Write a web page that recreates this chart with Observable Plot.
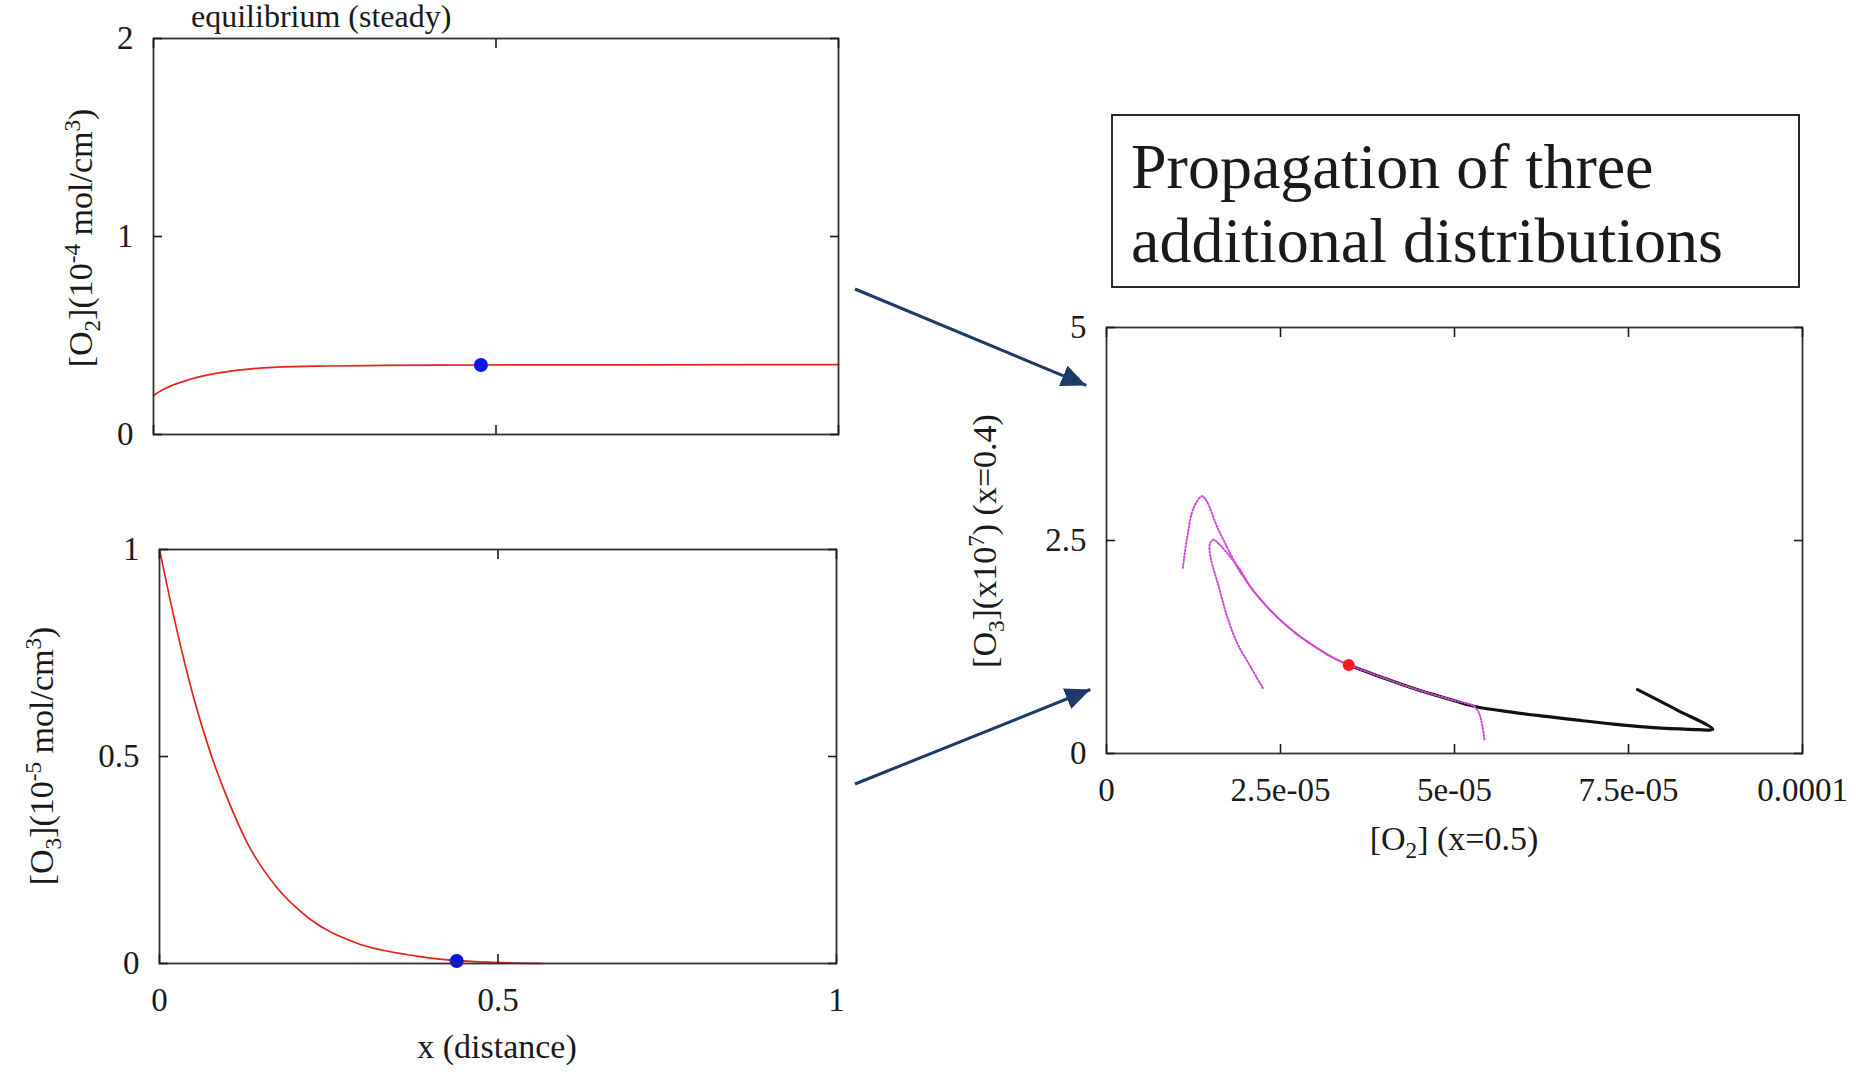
<!DOCTYPE html>
<html><head><meta charset="utf-8">
<script src="https://cdn.jsdelivr.net/npm/d3@7"></script>
<script src="https://cdn.jsdelivr.net/npm/@observablehq/plot@0.6"></script>
<style>
html,body{margin:0;padding:0;background:#fff;}
body{width:1865px;height:1072px;position:relative;overflow:hidden;font-family:"Liberation Serif","Times New Roman",serif;color:#1a1a1a;}
.abs{position:absolute;}
.lbl{position:absolute;white-space:nowrap;font-size:34px;line-height:1;}
.rot{transform:translate(-50%,-50%) rotate(-90deg);}
.cx{transform:translateX(-50%);}
sub,sup{font-size:0.68em;line-height:0;}
#box{position:absolute;left:1111px;top:114px;width:689px;height:174px;border:2px solid #2a2a2a;font-size:64px;line-height:74px;padding:14px 0 0 18px;box-sizing:border-box;white-space:nowrap;}
</style></head><body>
<script>
// ---------- Data ----------
// Top panel: equilibrium [O2] profile vs distance (units 1e-4 mol/cm^3)
const o2Dist = [0, 0.014, 0.055, 0.095, 0.135, 0.175, 0.255, 0.335, 0.478, 0.7, 1];
const o2Conc = [0.197, 0.227, 0.28, 0.311, 0.329, 0.339, 0.346, 0.349, 0.351, 0.352, 0.353];
const o2ProbeDist = [0.478];
const o2ProbeConc = [0.351];

// Bottom panel: equilibrium [O3] profile vs distance (units 1e-5 mol/cm^3)
const o3Dist = [0, 0.025, 0.05, 0.075, 0.1, 0.13, 0.17, 0.22, 0.29, 0.38, 0.46, 0.566];
const o3Conc = [1, 0.81, 0.645, 0.51, 0.4, 0.29, 0.19, 0.11, 0.05, 0.018, 0.005, 0];
const o3ProbeDist = [0.439];
const o3ProbeConc = [0.006];

// Right panel: phase plane [O2](x=0.5) vs [O3](x=0.4) (x1e7)
const baseO2 = [7.63e-5, 8.2e-5, 8.71e-5, 8.5e-5, 8.243e-5, 7.765e-5, 7.285e-5, 6.807e-5, 6.376e-5, 5.87e-5, 5.275e-5, 4.94e-5, 4.46e-5, 3.98e-5, 3.48e-5];
const baseO3 = [0.75, 0.51, 0.285, 0.28, 0.288, 0.31, 0.345, 0.388, 0.43, 0.48, 0.555, 0.634, 0.75, 0.887, 1.04];
const distAO2 = [1.097e-5, 1.16e-5, 1.255e-5, 1.375e-5, 1.447e-5, 1.59e-5, 1.734e-5, 1.878e-5, 2.069e-5, 2.31e-5, 2.547e-5, 2.787e-5, 3.027e-5, 3.265e-5, 3.48e-5];
const distAO3 = [2.18, 2.54, 2.89, 3.02, 2.95, 2.66, 2.42, 2.19, 1.955, 1.72, 1.53, 1.37, 1.237, 1.12, 1.04];
const distBO2 = [2.245e-5, 2.069e-5, 1.878e-5, 1.734e-5, 1.614e-5, 1.495e-5, 1.485e-5, 1.533e-5, 1.638e-5, 1.78e-5, 1.925e-5, 2.069e-5, 2.31e-5, 2.547e-5, 2.787e-5, 3.027e-5, 3.265e-5, 3.48e-5];
const distBO3 = [0.77, 1.02, 1.295, 1.605, 1.955, 2.305, 2.46, 2.51, 2.44, 2.305, 2.15, 1.955, 1.72, 1.53, 1.37, 1.237, 1.12, 1.04];
const distCO2 = [5.43e-5, 5.40e-5, 5.35e-5, 5.275e-5, 4.94e-5, 4.46e-5, 3.98e-5, 3.48e-5];
const distCO3 = [0.167, 0.32, 0.478, 0.555, 0.634, 0.75, 0.887, 1.04];
const eqO2 = [3.48e-5];
const eqO3 = [1.04];

// Ticks
const profileXTicks = [0, 0.5, 1];
const profileXTickLabels = ["0", "0.5", "1"];
const topYTicks = [0, 1, 2];
const topYTickLabels = ["0", "1", "2"];
const botYTicks = [0, 0.5, 1];
const botYTickLabels = ["0", "0.5", "1"];
const phaseXTicks = [0, 2.5e-5, 5e-5, 7.5e-5, 1e-4];
const phaseXTickLabels = ["0", "2.5e-05", "5e-05", "7.5e-05", "0.0001"];
const phaseYTicks = [0, 2.5, 5];
const phaseYTickLabels = ["0", "2.5", "5"];

// ---------- Helpers ----------
const zip = (xs, ys) => xs.map((x, i) => ({x, y: ys[i]}));
const fmtFrom = (ticks, labels) => (d) => labels[ticks.indexOf(d)] ?? "";

function panel({left, top, width, height, frame, xDomain, yDomain, xTicks, xFmt, yTicks, yFmt, showX, marks}) {
  const [fl, fr, ft, fb] = frame;
  const svg = Plot.plot({
    width, height,
    marginLeft: fl - left, marginRight: left + width - fr,
    marginTop: ft - top, marginBottom: top + height - fb,
    x: {domain: xDomain}, y: {domain: yDomain},
    style: {fontFamily: '"Liberation Serif","Times New Roman",serif', fontSize: "33px", color: "#1a1a1a", background: "transparent", overflow: "visible"},
    marks: [
      ...marks,
      Plot.frame({stroke: "#333", strokeWidth: 1.8}),
      Plot.axisX({anchor: "bottom", ticks: xTicks, tickSize: -9, tickPadding: 33, tickFormat: showX ? xFmt : () => "", label: null, strokeWidth: 1.6}),
      Plot.axisX({anchor: "top", ticks: xTicks, tickSize: -9, tickFormat: () => "", label: null, strokeWidth: 1.6}),
      Plot.axisY({anchor: "left", ticks: yTicks, tickSize: -9, tickPadding: 29, tickFormat: yFmt, label: null, strokeWidth: 1.6}),
      Plot.axisY({anchor: "right", ticks: yTicks, tickSize: -9, tickFormat: () => "", label: null, strokeWidth: 1.6})
    ]
  });
  svg.style.position = "absolute";
  svg.style.left = left + "px";
  svg.style.top = top + "px";
  document.body.appendChild(svg);
}

const red = "#e3231d";
const magenta = "#d048d8";

// Top panel
panel({
  left: 0, top: 0, width: 860, height: 470, frame: [153, 838, 38, 434],
  xDomain: [0, 1], yDomain: [0, 2],
  xTicks: profileXTicks, xFmt: fmtFrom(profileXTicks, profileXTickLabels),
  yTicks: topYTicks, yFmt: fmtFrom(topYTicks, topYTickLabels), showX: false,
  marks: [
    Plot.line(zip(o2Dist, o2Conc), {x: "x", y: "y", stroke: red, strokeWidth: 1.7, curve: "monotone-x"}),
    Plot.dot(zip(o2ProbeDist, o2ProbeConc), {x: "x", y: "y", r: 7, fill: "#0814e8", stroke: "none"})
  ]
});

// Bottom panel
panel({
  left: 0, top: 500, width: 860, height: 572, frame: [159, 836, 549, 963],
  xDomain: [0, 1], yDomain: [0, 1],
  xTicks: profileXTicks, xFmt: fmtFrom(profileXTicks, profileXTickLabels),
  yTicks: botYTicks, yFmt: fmtFrom(botYTicks, botYTickLabels), showX: true,
  marks: [
    Plot.line(zip(o3Dist, o3Conc), {x: "x", y: "y", stroke: red, strokeWidth: 1.7, curve: "monotone-x"}),
    Plot.dot(zip(o3ProbeDist, o3ProbeConc), {x: "x", y: "y", r: 7, fill: "#0814e8", stroke: "none"})
  ]
});

// Right panel (phase plane)
const dotted = {stroke: magenta, strokeWidth: 2, strokeDasharray: "1.3 2.1", curve: "catmull-rom"};
panel({
  left: 1000, top: 300, width: 865, height: 560, frame: [1106, 1802, 327, 753],
  xDomain: [0, 1e-4], yDomain: [0, 5],
  xTicks: phaseXTicks, xFmt: fmtFrom(phaseXTicks, phaseXTickLabels),
  yTicks: phaseYTicks, yFmt: fmtFrom(phaseYTicks, phaseYTickLabels), showX: true,
  marks: [
    Plot.line(zip(baseO2, baseO3), {x: "x", y: "y", stroke: "#111", strokeWidth: 3.2, curve: "catmull-rom"}),
    Plot.line(zip(distAO2, distAO3), {x: "x", y: "y", ...dotted}),
    Plot.line(zip(distBO2, distBO3), {x: "x", y: "y", ...dotted}),
    Plot.line(zip(distCO2, distCO3), {x: "x", y: "y", ...dotted}),
    Plot.dot(zip(eqO2, eqO3), {x: "x", y: "y", r: 6, fill: "#ff1a2a", stroke: "none"})
  ]
});

// ---------- Text ----------
function addHTML(html) { document.body.insertAdjacentHTML("beforeend", html); }
addHTML('<div class="lbl" style="left:191px;top:0px;font-size:32px;line-height:32px;">equilibrium (steady)</div>');
addHTML('<div class="lbl rot" style="left:81px;top:238px;">[O<sub>2</sub>](10<sup>-4</sup> mol/cm<sup>3</sup>)</div>');
addHTML('<div class="lbl rot" style="left:42px;top:756px;">[O<sub>3</sub>](10<sup>-5</sup> mol/cm<sup>3</sup>)</div>');
addHTML('<div class="lbl cx" style="left:497px;top:1030px;">x (distance)</div>');
addHTML('<div class="lbl rot" style="left:985px;top:541px;">[O<sub>3</sub>](x10<sup>7</sup>) (x=0.4)</div>');
addHTML('<div class="lbl cx" style="left:1454px;top:822px;">[O<sub>2</sub>] (x=0.5)</div>');
addHTML('<div id="box">Propagation of three<br>additional distributions</div>');

// ---------- Connector arrows (annotation) ----------
const connectors = [
  {x1: 855, y1: 289, x2: 1090, y2: 387},
  {x1: 855, y1: 784, x2: 1094, y2: 688}
];
const ns = "http://www.w3.org/2000/svg";
const ov = document.createElementNS(ns, "svg");
ov.setAttribute("width", 1865); ov.setAttribute("height", 1072);
ov.style.position = "absolute"; ov.style.left = "0"; ov.style.top = "0"; ov.style.pointerEvents = "none";
ov.innerHTML = '<defs><marker id="ah" markerUnits="userSpaceOnUse" markerWidth="26" markerHeight="24" refX="25" refY="11" orient="auto"><path d="M0,0 L25,11 L0,22 Z" fill="#1f3a68"/></marker></defs>' +
  connectors.map(c => {
    const dx = c.x2 - c.x1, dy = c.y2 - c.y1, L = Math.hypot(dx, dy);
    const ex = c.x2 - dx / L * 4, ey = c.y2 - dy / L * 4;
    return `<line x1="${c.x1}" y1="${c.y1}" x2="${ex}" y2="${ey}" stroke="#1f3a68" stroke-width="3" marker-end="url(#ah)"/>`;
  }).join("");
document.body.appendChild(ov);
</script>
</body></html>
